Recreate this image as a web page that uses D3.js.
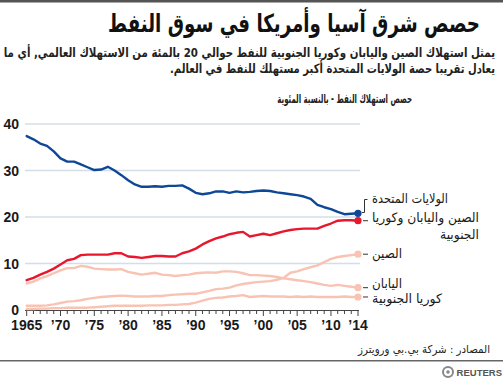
<!DOCTYPE html>
<html><head><meta charset="utf-8">
<script src="https://cdn.jsdelivr.net/npm/d3@7/dist/d3.min.js"></script>
<style>
html,body{margin:0;padding:0;background:#fff;}
svg{display:block;}
</style></head>
<body>
<svg id="c" width="503" height="378"></svg>
<script>
const years = d3.range(1965, 2015);
const usValues = [37.4,36.7,35.8,35.3,34.1,32.6,31.9,31.9,31.3,30.7,30.1,30.2,30.8,30.0,29.0,27.9,27.0,26.5,26.5,26.6,26.5,26.7,26.7,26.8,26.1,25.2,24.9,25.1,25.5,25.5,25.2,25.5,25.3,25.4,25.6,25.7,25.6,25.3,25.1,24.9,24.7,24.4,23.9,22.6,22.1,21.7,21.1,20.6,20.7,20.8];
const asiaValues = [6.4,6.9,7.6,8.2,8.9,9.8,10.7,11.0,11.8,11.9,11.9,11.9,11.9,12.2,12.2,11.5,11.4,11.2,11.4,11.6,11.6,11.5,11.5,12.2,12.6,13.2,14.1,14.8,15.4,15.8,16.3,16.6,16.8,15.8,16.1,16.4,16.1,16.5,16.9,17.2,17.4,17.5,17.5,17.5,18.1,18.6,19.2,19.3,19.3,19.2];
const japanValues = [5.7,6.1,6.8,7.3,7.9,8.5,9.0,9.0,9.5,9.3,8.9,8.8,8.7,8.7,8.8,8.2,7.9,7.6,7.8,8.0,7.6,7.5,7.3,7.5,7.6,7.9,8.0,8.1,8.0,8.3,8.3,8.2,7.9,7.5,7.5,7.4,7.3,7.1,6.8,6.6,6.4,6.2,6.0,5.7,5.4,5.2,5.4,5.2,5.0,4.8];
const chinaValues = [0.9,0.9,0.9,1.0,1.2,1.5,1.8,1.9,2.1,2.4,2.6,2.8,2.9,3.0,3.1,3.0,2.9,2.9,2.9,3.0,3.0,3.2,3.3,3.4,3.5,3.5,3.8,4.1,4.5,4.6,4.8,5.3,5.6,5.8,6.0,6.1,6.2,6.5,6.9,8.0,8.3,8.8,9.2,9.6,10.3,11.0,11.4,11.6,11.8,12.0];
const koreaValues = [0.2,0.2,0.3,0.3,0.4,0.4,0.5,0.5,0.5,0.5,0.6,0.7,0.8,0.9,0.9,0.9,0.9,0.9,1.0,1.0,1.0,1.1,1.1,1.2,1.3,1.6,2.0,2.4,2.6,2.7,2.9,3.0,3.2,2.8,2.9,3.0,2.9,2.9,2.9,2.8,2.9,2.8,2.9,2.8,2.8,2.8,2.8,2.9,2.8,2.8];
const yTicks = [0,10,20,30,40];
const xTickYears = [1965,1970,1975,1980,1985,1990,1995,2000,2005,2010,2014];
const xTickLabels = ["1965","’70","’75","’80","’85","’90","’95","’00","’05","’10","’14"];

const RLM = "\u200F";
const title = "حصص شرق آسيا وأمريكا في سوق النفط";
const subtitle1 = "يمثل استهلاك الصين واليابان وكوريا الجنوبية للنفط حوالي 20 بالمئة من الاستهلاك العالمي, أي ما";
const subtitle2 = "يعادل تقريبا حصة الولايات المتحدة أكبر مستهلك للنفط في العالم.";
const chartLabel = "حصص استهلاك النفط - بالنسبة المئوية";
const source = "المصادر : شركة بي.بي ورويترز";

const BLUE = "#0f4797", RED = "#e8172c", PINK = "#f8c3b3", GRID = "#d3dee8", TEXT = "#1a1a1a";
const AR = "'DejaVu Sans', sans-serif";
const LAT = "'Liberation Sans', Arial, sans-serif";

const svg = d3.select("#c");
const x = d3.scaleLinear().domain([1965, 2014]).range([26.7, 358]);
const y = d3.scaleLinear().domain([0, 40]).range([310, 124]);

// Arabic text: right edge at xr, horizontally scaled to width w
function arText(parent, txt, xr, yb, size, w, weight, fill) {
  const t = parent.append("text")
    .attr("x", 0).attr("y", 0).attr("text-anchor", "end")
    .attr("font-family", AR).attr("font-size", size)
    .attr("font-weight", weight || "normal").attr("fill", fill || TEXT)
    .text(RLM + txt + RLM);
  const len = t.node().getComputedTextLength();
  const sx = Math.min(1, w / len);
  t.attr("transform", `translate(${xr},${yb}) scale(${sx.toFixed(4)},1)`);
  return t;
}

// top rule
svg.append("rect").attr("x",0).attr("y",0).attr("width",503).attr("height",2.5).attr("fill","#555");

arText(svg, title, 480, 32, 25, 372, "bold", "#111");
arText(svg, subtitle1, 495, 57, 13, 492, "bold", "#222");
arText(svg, subtitle2, 495, 73, 13, 325, "bold", "#222");
arText(svg, chartLabel, 412, 103, 12.5, 135, "bold", "#222");

// gridlines
svg.append("g").selectAll("line").data(yTicks.filter(d=>d>0)).join("line")
  .attr("x1",25).attr("x2",360).attr("y1",d=>y(d)).attr("y2",d=>y(d))
  .attr("stroke",GRID).attr("stroke-width",1.5);

// y labels
svg.append("g").selectAll("text").data(yTicks).join("text")
  .attr("x",19).attr("y",d=>y(d)+5).attr("text-anchor","end")
  .attr("font-family",LAT).attr("font-weight","bold").attr("font-size",14).attr("fill",TEXT)
  .text(d=>d);

// x axis
const xAxis = svg.append("g");
xAxis.append("line").attr("x1",25).attr("x2",359).attr("y1",310.5).attr("y2",310.5).attr("stroke","#444").attr("stroke-width",1);
xAxis.selectAll("line.t").data(years).join("line").attr("class","t")
  .attr("x1",d=>x(d)).attr("x2",d=>x(d)).attr("y1",310.5)
  .attr("y2",d=>(d%5===0||d===2014)?316:314)
  .attr("stroke","#444").attr("stroke-width",1);
xAxis.selectAll("text").data(xTickYears).join("text")
  .attr("x",d=>x(d)).attr("y",330).attr("text-anchor","middle")
  .attr("font-family",LAT).attr("font-weight","bold").attr("font-size",14).attr("fill",TEXT)
  .text((d,i)=>xTickLabels[i]);

// lines
const line = d3.line().x((d,i)=>x(years[i])).y(d=>y(d)).curve(d3.curveLinear);
const series = [
  {v: koreaValues, c: PINK},
  {v: japanValues, c: PINK},
  {v: chinaValues, c: PINK},
  {v: usValues, c: BLUE},
  {v: asiaValues, c: RED}
];
series.forEach(s => {
  svg.append("path").attr("d", line(s.v)).attr("fill","none").attr("stroke",s.c)
    .attr("stroke-width",2.4).attr("stroke-linejoin","round").attr("stroke-linecap","round");
});
series.forEach(s => {
  svg.append("circle").attr("cx",x(2014)).attr("cy",y(s.v[s.v.length-1])).attr("r",3.6).attr("fill",s.c);
});

// labels
const lab = svg.append("g");
arText(lab, "الولايات المتحدة", 448, 203, 13, 76);
arText(lab, "الصين واليابان وكوريا", 479, 222, 13, 107);
arText(lab, "الجنوبية", 479, 239, 13, 39);
arText(lab, "الصين", 402, 258, 13, 30);
arText(lab, "اليابان", 402, 288, 13, 30);
arText(lab, "كوريا الجنوبية", 442, 303, 13, 70);

// connectors
const conn = svg.append("g").attr("stroke","#333").attr("stroke-width",1).attr("fill","none");
conn.append("path").attr("d","M367.5,199.5 H364.5 V212.5 H362");
[asiaValues, chinaValues, japanValues, koreaValues].forEach(v => {
  conn.append("line").attr("x1",363).attr("x2",368).attr("y1",y(v[v.length-1])).attr("y2",y(v[v.length-1]));
});

// source
arText(svg, source, 490, 353, 11, 132, "normal", "#222");
svg.append("rect").attr("x",0).attr("y",360).attr("width",503).attr("height",1.5).attr("fill","#666");

// reuters logo
const logo = svg.append("g").attr("transform","translate(448,372)");
logo.append("circle").attr("r",5).attr("fill","none").attr("stroke","#888").attr("stroke-width",2);
logo.append("circle").attr("r",1.8).attr("fill","#888");
svg.append("text").attr("x",502).attr("y",376).attr("text-anchor","end")
  .attr("font-family",LAT).attr("font-weight","bold").attr("font-size",9.5).attr("fill","#555").text("REUTERS");
</script>
</body></html>
